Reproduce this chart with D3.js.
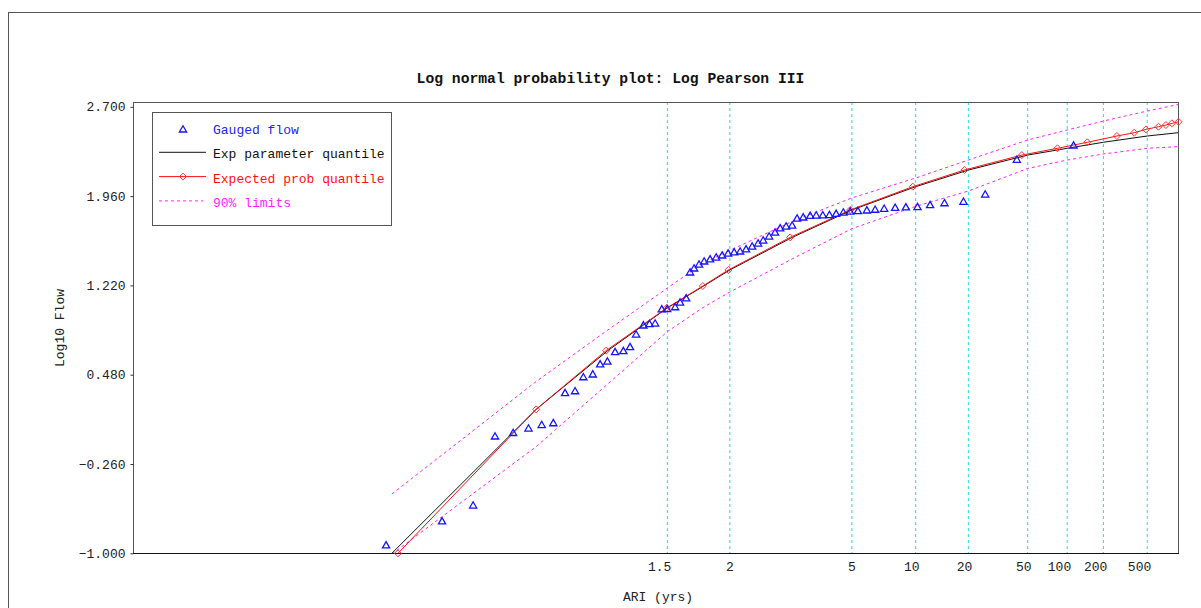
<!DOCTYPE html>
<html lang="en">
<head>
    <meta charset="UTF-8">
    <title>Log normal probability plot</title>
    <script src="https://cdn.jsdelivr.net/npm/d3@7"></script>
    <style>
        body {
            margin: 0;
            background: white;
        }
        svg {
            display: block;
        }
        text {
            font-family: "Liberation Mono", "DejaVu Sans Mono", monospace;
            font-size: 13px;
        }
    </style>
</head>
<body>
<script>
    const width  = 1201;
    const height = 608;

    // plot box
    const plotLeft = 133, plotRight = 1178, plotTop = 102, plotBottom = 553;

    // ARI ticks on the probability axis
    const ariTicks      = [1.5, 2, 5, 10, 20, 50, 100, 200, 500];
    const ariTickLabels = ["1.5", "2", "5", "10", "20", "50", "100", "200", "500"];
    const yTicks        = [-1.0, -0.26, 0.48, 1.22, 1.96, 2.70];

    // Gauged flow: standard normal variate of plotting position, log10 flow
    const gaugedZ = [-2.370, -1.984, -1.770, -1.619, -1.494, -1.388, -1.297, -1.217, -1.136, -1.067,
                     -1.010, -0.945, -0.894, -0.844, -0.791, -0.734, -0.688, -0.646, -0.596, -0.554,
                     -0.515, -0.469, -0.432, -0.377, -0.343, -0.301, -0.274, -0.246, -0.212, -0.177,
                     -0.136, -0.094, -0.053, -0.012, 0.030, 0.071, 0.112, 0.154, 0.195, 0.230,
                     0.271, 0.312, 0.347, 0.388, 0.430, 0.464, 0.506, 0.554, 0.596, 0.641,
                     0.687, 0.733, 0.783, 0.830, 0.883, 0.945, 1.002, 1.064, 1.140, 1.214,
                     1.294, 1.381, 1.480, 1.611, 1.761, 1.979, 2.370];
    const gaugedQ = [-0.931, -0.732, -0.600, -0.028, 0.001, 0.038, 0.067, 0.082, 0.331, 0.347,
                     0.463, 0.486, 0.569, 0.593, 0.671, 0.679, 0.712, 0.817, 0.892, 0.904,
                     0.908, 1.025, 1.028, 1.043, 1.082, 1.116, 1.331, 1.364, 1.397, 1.422,
                     1.439, 1.455, 1.472, 1.488, 1.497, 1.505, 1.522, 1.546, 1.571, 1.596,
                     1.629, 1.662, 1.696, 1.712, 1.720, 1.778, 1.787, 1.800, 1.803, 1.805,
                     1.807, 1.817, 1.828, 1.836, 1.839, 1.845, 1.851, 1.859, 1.867, 1.870,
                     1.872, 1.889, 1.905, 1.917, 1.977, 2.265, 2.383];

    // Exp parameter quantiles (ARI, log10 flow)
    const quantileAri = [1.01, 1.1, 1.25, 1.5, 1.75, 2, 3, 5, 10, 20, 50, 100, 200, 500, 1000];
    const expParamQ   = [-1.000, 0.193, 0.679, 1.033, 1.215, 1.348, 1.618, 1.845, 2.038, 2.176,
                         2.300, 2.356, 2.406, 2.458, 2.485];

    // Expected probability quantiles
    const expProbAri = [1.0112, 1.0999, 1.245, 1.497, 1.743, 1.984, 2.952, 4.92, 9.66, 18.9,
                        45.4, 83.8, 146, 263, 377, 486, 641, 758, 869, 1013];
    const expProbQ   = [-1.000, 0.193, 0.679, 1.033, 1.215, 1.348, 1.618, 1.845, 2.038, 2.176,
                        2.300, 2.356, 2.406, 2.458, 2.485, 2.513, 2.535, 2.549, 2.563, 2.576];

    // 90% confidence limits at quantileAri
    const upper90 = [-0.509, 0.424, 0.850, 1.198, 1.406, 1.510, 1.750, 1.945, 2.110, 2.259,
                     2.425, 2.508, 2.582, 2.665, 2.719];
    const lower90 = [-1.006, -0.116, 0.403, 0.837, 1.040, 1.165, 1.440, 1.690, 1.875, 2.002,
                     2.189, 2.259, 2.309, 2.356, 2.370];

    // inverse standard normal CDF (Acklam)
    function normInv(p) {
        const a = [-3.969683028665376e+01, 2.209460984245205e+02, -2.759285104469687e+02,
                   1.383577518672690e+02, -3.066479806614716e+01, 2.506628277459239e+00];
        const b = [-5.447609879822406e+01, 1.615858368580409e+02, -1.556989798598866e+02,
                   6.680131188771972e+01, -1.328068155288572e+01];
        const c = [-7.784894002430293e-03, -3.223964580411365e-01, -2.400758277161838e+00,
                   -2.549732539343734e+00, 4.374664141464968e+00, 2.938163982698783e+00];
        const d = [7.784695709041462e-03, 3.224671290700398e-01, 2.445134137142996e+00,
                   3.754408661907416e+00];
        const pl = 0.02425;
        let q, r;
        if (p < pl) {
            q = Math.sqrt(-2 * Math.log(p));
            return (((((c[0]*q+c[1])*q+c[2])*q+c[3])*q+c[4])*q+c[5]) / ((((d[0]*q+d[1])*q+d[2])*q+d[3])*q+1);
        }
        if (p <= 1 - pl) {
            q = p - 0.5; r = q * q;
            return (((((a[0]*r+a[1])*r+a[2])*r+a[3])*r+a[4])*r+a[5])*q / (((((b[0]*r+b[1])*r+b[2])*r+b[3])*r+b[4])*r+1);
        }
        q = Math.sqrt(-2 * Math.log(1 - p));
        return -(((((c[0]*q+c[1])*q+c[2])*q+c[3])*q+c[4])*q+c[5]) / ((((d[0]*q+d[1])*q+d[2])*q+d[3])*q+1);
    }
    const ariToZ = ari => normInv(1 - 1 / ari);

    const x = d3.scaleLinear().domain([-4.115, ariToZ(1000)]).range([plotLeft, plotRight]);
    const y = d3.scaleLinear().domain([-1, 2.7]).range([553.3, 106.8]);

    const svg = d3.select("body").append("svg")
        .attr("width", width).attr("height", height);

    svg.append("rect").attr("width", width).attr("height", height).attr("fill", "white");

    // outer frame
    svg.append("rect")
        .attr("x", 8.5).attr("y", 12.5)
        .attr("width", 1210).attr("height", 620)
        .attr("fill", "none").attr("stroke", "#555");

    svg.append("defs").append("clipPath").attr("id", "plot-clip")
        .append("rect")
        .attr("x", plotLeft).attr("y", plotTop)
        .attr("width", plotRight - plotLeft).attr("height", plotBottom - plotTop);

    // cyan gridlines at ARI ticks
    svg.append("g").selectAll("line")
        .data(ariTicks)
        .join("line")
          .attr("x1", d => x(ariToZ(d))).attr("x2", d => x(ariToZ(d)))
          .attr("y1", plotTop).attr("y2", plotBottom)
          .attr("stroke", "#22dde6")
          .attr("stroke-dasharray", "3,3");

    // plot box
    svg.append("rect")
        .attr("x", plotLeft + 0.5).attr("y", plotTop + 0.5)
        .attr("width", plotRight - plotLeft).attr("height", plotBottom - plotTop)
        .attr("fill", "none").attr("stroke", "#555");

    svg.append("line")
        .attr("x1", plotLeft).attr("x2", plotRight + 1)
        .attr("y1", plotBottom + 0.5).attr("y2", plotBottom + 0.5)
        .attr("stroke", "#111");

    // y axis
    const yAxis = svg.append("g")
        .attr("transform", `translate(${plotLeft + 0.5},0)`)
        .call(d3.axisLeft(y).tickValues(yTicks).tickSize(3).tickPadding(5).tickFormat(d3.format(".3f")));
    yAxis.select(".domain").remove();
    yAxis.selectAll("line").attr("stroke", "#333");
    yAxis.selectAll("text")
        .attr("font-family", "Liberation Mono, monospace").attr("font-size", 13).attr("fill", "#222");

    // x axis labels (right aligned on the gridline)
    svg.append("g").selectAll("text")
        .data(ariTicks)
        .join("text")
          .attr("x", d => x(ariToZ(d)) + 4)
          .attr("y", 571)
          .attr("text-anchor", "end")
          .attr("fill", "#222")
          .text((d, i) => ariTickLabels[i]);

    // titles
    svg.append("text")
        .attr("x", 610.5).attr("y", 83)
        .attr("text-anchor", "middle")
        .style("font-size", "14.7px").style("font-weight", "bold")
        .attr("fill", "#111")
        .text("Log normal probability plot: Log Pearson III");

    svg.append("text")
        .attr("transform", "translate(64,328) rotate(-90)")
        .attr("text-anchor", "middle")
        .attr("fill", "#222")
        .text("Log10 Flow");

    svg.append("text")
        .attr("x", 658).attr("y", 601)
        .attr("text-anchor", "middle")
        .attr("fill", "#222")
        .text("ARI (yrs)");

    const plot = svg.append("g").attr("clip-path", "url(#plot-clip)");

    const line = d3.line().x(d => x(d[0])).y(d => y(d[1]));

    const limitPts = (vals) => quantileAri.map((a, i) => [ariToZ(a), vals[i]]);

    plot.append("path")
        .attr("d", line(limitPts(upper90)))
        .attr("fill", "none").attr("stroke", "#ff22ff").attr("stroke-dasharray", "3,3");
    plot.append("path")
        .attr("d", line(limitPts(lower90)))
        .attr("fill", "none").attr("stroke", "#ff22ff").attr("stroke-dasharray", "3,3");

    plot.append("path")
        .attr("d", line(limitPts(expParamQ)))
        .attr("fill", "none").attr("stroke", "#111");

    const expPts = expProbAri.map((a, i) => [ariToZ(a), expProbQ[i]]);
    plot.append("path")
        .attr("d", line(expPts))
        .attr("fill", "none").attr("stroke", "#ff1010");

    const diamond = "M0,-3.5L3.5,0L0,3.5L-3.5,0Z";
    const triangle = "M0,-3.3L3.6,3L-3.6,3Z";

    svg.append("g").selectAll("path")
        .data(expPts)
        .join("path")
          .attr("d", diamond)
          .attr("transform", d => `translate(${x(d[0])},${y(d[1])})`)
          .attr("fill", "none").attr("stroke", "#ff3030");

    svg.append("g").selectAll("path")
        .data(gaugedZ.map((z, i) => [z, gaugedQ[i]]))
        .join("path")
          .attr("d", triangle)
          .attr("transform", d => `translate(${x(d[0])},${y(d[1])})`)
          .attr("fill", "none").attr("stroke", "#1515ff").attr("stroke-width", 1.3);

    // legend
    const legend = svg.append("g");
    legend.append("rect")
        .attr("x", 152.5).attr("y", 112.5).attr("width", 239).attr("height", 113)
        .attr("fill", "white").attr("stroke", "#555");

    const items = [
        {label: "Gauged flow",            color: "#2222ff", type: "tri"},
        {label: "Exp parameter quantile", color: "#111",    type: "line"},
        {label: "Expected prob quantile", color: "#ff1010", type: "diamond"},
        {label: "90% limits",             color: "#ff22ff", type: "dash"}
    ];
    items.forEach((it, i) => {
        const cy = 130 + i * 24.3;
        if (it.type === "tri") {
            legend.append("path").attr("d", triangle)
                .attr("transform", `translate(183,${cy - 1})`)
                .attr("fill", "none").attr("stroke", "#1515ff").attr("stroke-width", 1.3);
        } else {
            legend.append("line")
                .attr("x1", 159).attr("x2", it.type === "dash" ? 203 : 206)
                .attr("y1", cy - 2).attr("y2", cy - 2)
                .attr("stroke", it.color)
                .attr("stroke-dasharray", it.type === "dash" ? "3,3" : null);
            if (it.type === "diamond") {
                legend.append("path").attr("d", diamond)
                    .attr("transform", `translate(183,${cy - 2})`)
                    .attr("fill", "none").attr("stroke", "#ff3030");
            }
        }
        legend.append("text")
            .attr("x", 213).attr("y", cy + 4)
            .attr("fill", it.color)
            .text(it.label);
    });
</script>
</body>
</html>
